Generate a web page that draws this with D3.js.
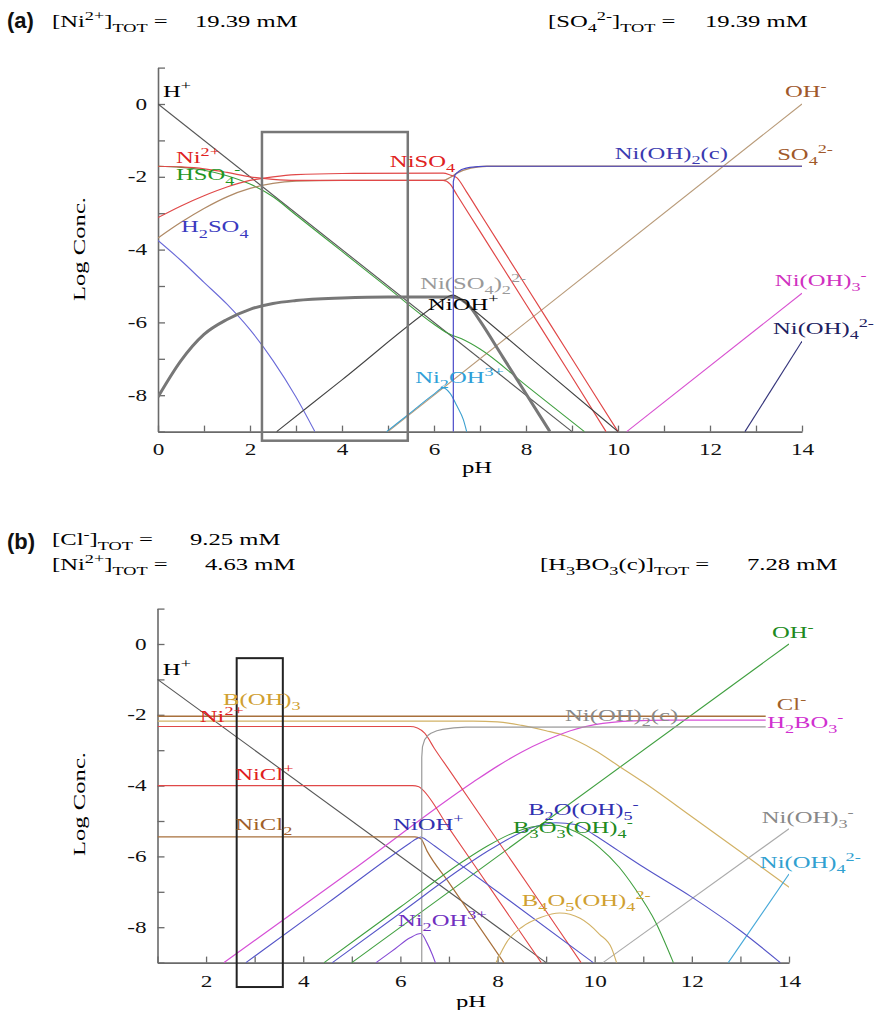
<!DOCTYPE html>
<html><head><meta charset="utf-8">
<script src="https://cdn.jsdelivr.net/npm/d3@7"></script>
<style>body{margin:0;background:#fff} svg{display:block} text{white-space:pre}</style>
</head><body>
<svg id="c" width="875" height="1010"></svg>
<script>
// ================= Panel (a): Ni2+ / SO4 2- system =================
const aHplus   = [[0,0],[9,-9]];
const aOHminus = [[5,-9],[14,0]];
const aH2SO4   = [[0,-3.75],[0.5,-4.3],[1,-4.9],[1.5,-5.5],[2,-6.2],[2.5,-7.05],[3,-8.05],[3.41,-9]];
const aHSO4    = [[0,-1.71],[0.5,-1.74],[1,-1.82],[1.5,-1.97],[2,-2.2],[2.5,-2.55],[3,-3.05],[4,-4.05],[5,-5.05],[6,-6.05],[6.3,-6.3],[6.6,-6.45],[7,-6.73],[8,-7.73],[9.27,-9]];
const aSO4     = [[0,-3.68],[0.5,-3.25],[1,-2.87],[1.5,-2.55],[2,-2.32],[2.5,-2.18],[3,-2.12],[4,-2.1],[6.2,-2.1],[6.35,-2.02],[6.5,-1.9],[6.8,-1.76],[7.15,-1.71],[14,-1.71]];
const aNi      = [[0,-1.71],[0.5,-1.73],[1,-1.78],[1.5,-1.88],[2,-2.0],[2.5,-2.07],[3,-2.1],[6.2,-2.1],[6.35,-2.2],[6.5,-2.5],[7,-3.5],[8,-5.5],[9,-7.5],[9.74,-9]];
const aNiSO4   = [[0,-3.12],[0.5,-2.8],[1,-2.52],[1.5,-2.28],[2,-2.1],[2.5,-2.0],[3,-1.94],[4,-1.91],[6.2,-1.9],[6.35,-1.95],[6.5,-2.03],[6.7,-2.4],[7,-3.0],[8,-5.0],[9,-7.0],[10,-9]];
const aNiSO42  = [[0,-8.05],[0.5,-7.05],[1,-6.33],[1.5,-5.92],[2,-5.64],[2.5,-5.48],[3,-5.4],[4,-5.33],[5,-5.3],[6.4,-5.3],[6.6,-5.38],[6.8,-5.6],[7,-5.96],[7.5,-6.96],[8,-7.96],[8.52,-9]];
const aNiOH    = [[2.58,-9],[4,-7.58],[6.2,-5.38],[6.32,-5.28],[6.42,-5.25],[6.55,-5.33],[6.78,-5.57],[8,-6.87],[10,-9]];
const aNi2OH   = [[4.97,-9],[5.5,-8.47],[6.0,-7.97],[6.2,-7.8],[6.35,-7.95],[6.5,-8.3],[6.64,-8.68],[6.71,-9]];
const aNiOH2c  = [[6.42,-9],[6.42,-2.13],[6.45,-1.97],[6.49,-1.9],[6.55,-1.84],[6.6,-1.8],[6.7,-1.76],[6.78,-1.74],[6.95,-1.72],[7.15,-1.71],[14,-1.71]];
const aNiOH3   = [[10.19,-9],[14,-5.2]];
const aNiOH4   = [[12.76,-9],[14,-6.52]];

const aSeries = [
  {pts:aHplus,c:"#555",w:1.1},{pts:aOHminus,c:"#b89a78",w:1.1},{pts:aH2SO4,c:"#6a6ad8",w:1.1},
  {pts:aHSO4,c:"#3f9f3f",w:1.1},{pts:aSO4,c:"#b08a66",w:1.3},{pts:aNi,c:"#e04848",w:1.2},
  {pts:aNiSO4,c:"#e04848",w:1.2},{pts:aNiSO42,c:"#777",w:3},{pts:aNiOH,c:"#444",w:1.1},
  {pts:aNi2OH,c:"#3b9fcf",w:1.1},{pts:aNiOH2c,c:"#4a4ac8",w:1.2,lin:true},{pts:aNiOH3,c:"#d850d0",w:1.1},
  {pts:aNiOH4,c:"#33337a",w:1.1}
];
const aLabels = [
  {t:"H^+",x:0.11,y:0.19,c:"#000"},
  {t:"Ni^{2+}",x:0.39,y:-1.62,c:"#e02020"},
  {t:"HSO_4^-",x:0.39,y:-2.09,c:"#1f961f"},
  {t:"H_2SO_4",x:0.5,y:-3.53,c:"#3a3ac0"},
  {t:"NiSO_4",x:5.04,y:-1.73,c:"#e02020"},
  {t:"Ni(OH)_2(c)",x:9.93,y:-1.51,c:"#3a3ab0"},
  {t:"OH^-",x:13.63,y:0.19,c:"#a0582a"},
  {t:"SO_4^{2-}",x:13.46,y:-1.54,c:"#a0582a"},
  {t:"Ni(SO_4)_2^{2-}",x:5.7,y:-5.08,c:"#999"},
  {t:"NiOH^+",x:5.87,y:-5.66,c:"#000"},
  {t:"Ni_2OH^{3+}",x:5.59,y:-7.66,c:"#2f9fd8"},
  {t:"Ni(OH)_3^-",x:13.41,y:-5.0,c:"#d030c0"},
  {t:"Ni(OH)_4^{2-}",x:13.37,y:-6.32,c:"#202060"}
];
const aBox = {x0:2.26,x1:5.43,y0:-0.77,y1:-9.25};

// ================= Panel (b): Ni2+ / Cl- / borate system =================
const bHplus   = [[1,-1],[9,-9]];
const bOHminus = [[5,-9],[14,0]];
const bCl      = [[1,-2.04],[14,-2.04]];
const bBOH3    = [[1,-2.18],[7.5,-2.18],[8,-2.2],[8.5,-2.3],[9,-2.45],[9.4,-2.6],[10,-3.0],[10.5,-3.45],[11,-3.9],[12,-4.88],[13,-5.87],[14,-6.87]];
const bH2BO3   = [[2.37,-9],[5,-6.4],[7.5,-3.9],[8,-3.45],[8.5,-3.05],[9,-2.72],[9.5,-2.45],[10,-2.28],[10.8,-2.17],[11.5,-2.15],[14,-2.15]];
const bNi      = [[1,-2.33],[6.2,-2.33],[6.35,-2.37],[6.5,-2.52],[6.7,-2.95],[7,-3.55],[8,-5.55],[9,-7.55],[9.72,-9]];
const bNiCl    = [[1,-4.0],[6.25,-4.0],[6.38,-4.03],[6.46,-4.12],[7,-5.2],[8,-7.2],[8.9,-9]];
const bNiCl2   = [[1,-5.45],[6.3,-5.45],[6.42,-5.5],[6.55,-5.85],[7,-6.74],[8.13,-9]];
const bNiOH    = [[2.82,-9],[4.5,-7.32],[6.2,-5.62],[6.32,-5.51],[6.42,-5.45],[6.52,-5.52],[6.7,-5.7],[8,-7.0],[9.97,-9]];
const bNi2OH   = [[5.5,-9],[5.9,-8.6],[6.2,-8.3],[6.42,-8.18],[6.55,-8.45],[6.65,-8.75],[6.72,-9]];
const bNiOH2c  = [[6.44,-9],[6.44,-3.2],[6.455,-2.9],[6.5,-2.7],[6.57,-2.58],[6.63,-2.52],[6.75,-2.45],[6.87,-2.41],[7.1,-2.37],[7.35,-2.35],[14,-2.34]];
const bNiOH3   = [[10.17,-9],[14,-5.22]];
const bNiOH4   = [[12.75,-9],[14,-6.5]];
const bB2O     = [[4.6,-9],[6,-7.6],[7.3,-6.3],[7.8,-5.85],[8.3,-5.45],[8.8,-5.15],[9.2,-5.05],[9.6,-5.1],[10,-5.4],[10.5,-5.85],[11,-6.3],[12,-7.15],[13,-8.1],[13.82,-9]];
const bB3O3    = [[4.43,-9],[6,-7.43],[7.3,-6.13],[7.8,-5.7],[8.3,-5.35],[8.8,-5.15],[9.2,-5.12],[9.6,-5.3],[10.1,-5.75],[10.5,-6.3],[10.8,-6.85],[11.27,-7.9],[11.62,-9]];
const bB4O5    = [[7.97,-9],[8.2,-8.4],[8.5,-8.0],[8.9,-7.72],[9.28,-7.6],[9.7,-7.75],[10.1,-8.2],[10.35,-8.6],[10.45,-9]];

const bSeries = [
  {pts:bHplus,c:"#555",w:1.1},{pts:bOHminus,c:"#3f9f3f",w:1.1},{pts:bCl,c:"#a8703c",w:1.4},
  {pts:bBOH3,c:"#d2b266",w:1.2},{pts:bH2BO3,c:"#d650d6",w:1.2},{pts:bNi,c:"#e04848",w:1.1},
  {pts:bNiCl,c:"#e04848",w:1.1},{pts:bNiCl2,c:"#a8703c",w:1.2},{pts:bNiOH,c:"#5555c8",w:1.1},
  {pts:bNi2OH,c:"#8448d4",w:1.1},{pts:bNiOH2c,c:"#9a9a9a",w:1.2,lin:true},{pts:bNiOH3,c:"#aaa",w:1.1},
  {pts:bNiOH4,c:"#45a8d8",w:1.1},{pts:bB2O,c:"#5555c8",w:1.1},{pts:bB3O3,c:"#3f9f3f",w:1.1},
  {pts:bB4O5,c:"#d2b266",w:1.1}
];
const bLabels = [
  {t:"H^+",x:1.11,y:-0.88,c:"#000"},
  {t:"B(OH)_3",x:2.35,y:-1.72,c:"#d0a030"},
  {t:"Ni^{2+}",x:1.87,y:-2.2,c:"#e02020"},
  {t:"NiCl^+",x:2.6,y:-3.84,c:"#e02020"},
  {t:"NiCl_2",x:2.6,y:-5.25,c:"#a0602a"},
  {t:"NiOH^+",x:5.85,y:-5.25,c:"#3030b0"},
  {t:"Ni_2OH^{3+}",x:5.95,y:-7.97,c:"#7030c0"},
  {t:"B_4O_5(OH)_4^{2-}",x:8.5,y:-7.4,c:"#d0a030"},
  {t:"B_2O(OH)_5^-",x:8.63,y:-4.83,c:"#3030b0"},
  {t:"B_3O_3(OH)_4^-",x:8.32,y:-5.34,c:"#208a20"},
  {t:"Ni(OH)_3^-",x:13.44,y:-5.06,c:"#888"},
  {t:"Ni(OH)_4^{2-}",x:13.4,y:-6.33,c:"#30a0d0"},
  {t:"Ni(OH)_2(c)",x:9.39,y:-2.18,c:"#888"},
  {t:"OH^-",x:13.65,y:0.17,c:"#208a20"},
  {t:"Cl^-",x:13.75,y:-1.86,c:"#a0602a"},
  {t:"H_2BO_3^-",x:13.55,y:-2.37,c:"#d030d0",bg:true}
];
const bBox = {x0:2.63,x1:3.58,y0:-0.4,y1:-9.69};

const yTicks = d3.range(-9, 2, 1);
const aXTicks = d3.range(0, 15, 1);
const bXTicks = d3.range(1, 15, 1);

// ================= drawing =================
const SX = 1.45;
const SERIF = "'Liberation Serif','Times New Roman',serif";
const svg = d3.select("#c");
svg.append("rect").attr("width",875).attr("height",1010).attr("fill","#fff");

function rich(parent, str, x, y, o) {
  o = o || {};
  const fs = o.fs || 17;
  const g = parent.append("g")
    .attr("transform", `translate(${x},${y})` + (o.rot ? " rotate(-90)" : "") + ` scale(${SX},1)`);
  const t = g.append("text").attr("font-family", SERIF).attr("font-size", fs)
    .attr("fill", o.c || "#000").attr("text-anchor", o.anchor || "start");
  const re = /(_\{[^}]*\}|\^\{[^}]*\}|_[^{]|\^[^{]|[^_^]+)/g;
  let cur = 0, m;
  while ((m = re.exec(str))) {
    let tok = m[0], mode = 0;
    if (tok[0] === "_" || tok[0] === "^") {
      mode = tok[0] === "_" ? 1 : 2;
      tok = tok[1] === "{" ? tok.slice(2, -1) : tok.slice(1);
    }
    const target = mode === 1 ? fs * 0.3 : mode === 2 ? -fs * 0.4 : 0;
    t.append("tspan").attr("dy", target - cur).attr("font-size", mode ? fs * 0.74 : fs).text(tok);
    cur = target;
  }
  if (o.bg) {
    const bb = t.node().getBBox();
    g.insert("rect", "text").attr("x", bb.x - 1).attr("y", bb.y).attr("width", bb.width + 2)
      .attr("height", bb.height).attr("fill", "#fff");
  }
  return g;
}

function panel(cfg) {
  const x = d3.scaleLinear().domain(cfg.xd).range(cfg.xr);
  const y = d3.scaleLinear().domain([-9, 1]).range(cfg.yr);
  const g = svg.append("g");
  const clipId = "clip" + cfg.id;
  svg.append("clipPath").attr("id", clipId).append("rect")
    .attr("x", x(cfg.xd[0])).attr("y", y(1)).attr("width", x(cfg.xd[1]) - x(cfg.xd[0]))
    .attr("height", y(-9) - y(1) + 1);

  // axes
  const ya = d3.axisLeft(y).tickValues(yTicks).tickSizeInner(-7).tickSizeOuter(0).tickPadding(0)
    .tickFormat(d => d % 2 === 0 && d <= 0 ? String(d) : "");
  const yg = g.append("g").attr("transform", `translate(${x(cfg.xd[0])},0)`).call(ya);
  const xa = d3.axisBottom(x).tickValues(cfg.xt).tickSizeInner(-6).tickSizeOuter(0).tickPadding(cfg.xpad)
    .tickFormat(d => d % 2 === 0 ? String(d) : "");
  const xg = g.append("g").attr("transform", `translate(0,${y(-9)})`).call(xa);
  [yg, xg].forEach(a => {
    a.attr("font-family", SERIF).attr("font-size", 16);
    a.select(".domain").attr("stroke", "#6a6a6a").attr("stroke-width", 1.6);
    a.selectAll(".tick line").attr("stroke", "#6a6a6a").attr("stroke-width", 1.3);
    a.selectAll(".tick text").attr("fill", "#111").attr("transform", `scale(${SX},1)`);
  });
  yg.selectAll(".tick text").attr("x", -7.5);

  // series
  const smooth = d3.line().x(d => x(d[0])).y(d => y(d[1])).curve(d3.curveMonotoneX);
  const straight = d3.line().x(d => x(d[0])).y(d => y(d[1])).curve(d3.curveLinear);
  const lg = g.append("g").attr("clip-path", `url(#${clipId})`);
  cfg.series.forEach(s => {
    lg.append("path").attr("d", (s.lin ? straight : smooth)(s.pts)).attr("fill", "none")
      .attr("stroke", s.c).attr("stroke-width", s.w).attr("stroke-linejoin", "round");
  });

  // highlight box
  const b = cfg.box;
  g.append("rect").attr("x", x(b.x0)).attr("y", y(b.y0))
    .attr("width", x(b.x1) - x(b.x0)).attr("height", y(b.y1) - y(b.y0))
    .attr("fill", "none").attr("stroke", cfg.boxColor).attr("stroke-width", cfg.boxW);

  // labels
  cfg.labels.forEach(l => rich(g, l.t, x(l.x), y(l.y), {c: l.c, bg: l.bg}));

  // axis titles
  rich(g, "Log Conc.", 85, cfg.ylabY, {rot: true, anchor: "middle"});
  rich(g, "pH", cfg.pHx, cfg.pHy, {anchor: "middle"});
  return {x, y};
}

panel({id:"a", xd:[0,14], xr:[158,802], yr:[431.6,67.6], xt:aXTicks, xpad:12,
  series:aSeries, labels:aLabels, box:aBox, boxColor:"#777", boxW:2.5, ylabY:249, pHx:477, pHy:473});
panel({id:"b", xd:[1,14], xr:[157.5,789], yr:[962.6,608.6], xt:bXTicks, xpad:13,
  series:bSeries, labels:bLabels, box:bBox, boxColor:"#222", boxW:2, ylabY:804, pHx:471, pHy:1007});

// headers
function tag(t, x, y) {
  svg.append("text").attr("x", x).attr("y", y).attr("font-family", "'Liberation Sans',Arial,sans-serif")
    .attr("font-weight", "bold").attr("font-size", 22).attr("fill", "#111").text(t);
}
tag("(a)", 7, 28);
rich(svg, "[Ni^{2+}]_{TOT} =", 52, 27);
rich(svg, "19.39 mM", 195, 27);
rich(svg, "[SO_4^{2-}]_{TOT} =", 548, 27);
rich(svg, "19.39 mM", 705, 27);

tag("(b)", 7, 549);
rich(svg, "[Cl^-]_{TOT} =", 52, 545);
rich(svg, "9.25 mM", 190, 545);
rich(svg, "[Ni^{2+}]_{TOT} =", 52, 570);
rich(svg, "4.63 mM", 205, 570);
rich(svg, "[H_3BO_3(c)]_{TOT} =", 540, 570);
rich(svg, "7.28 mM", 747, 570);
</script>
</body></html>
